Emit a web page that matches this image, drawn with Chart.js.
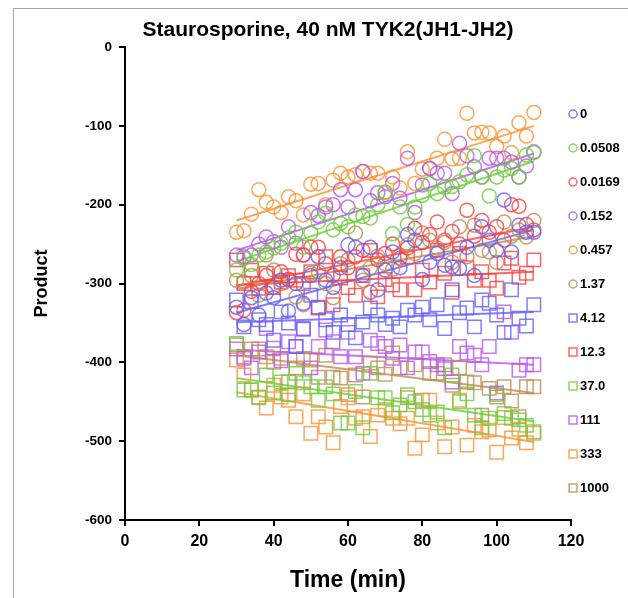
<!DOCTYPE html>
<html>
<head>
<meta charset="utf-8">
<script src="https://cdn.jsdelivr.net/npm/chart.js@4.4.1/dist/chart.umd.min.js"></script>
<style>
  html, body { margin: 0; padding: 0; overflow: hidden; background: #fff; }
  #wrap { position: relative; width: 628px; height: 598px; }
  #frame { position: absolute; left: 13px; top: 8px; width: 660px; height: 640px; border: 1px solid #a6a6a6; }
  canvas { position: absolute; left: 0; top: 0; }
</style>
</head>
<body>
<div id="wrap">
  <div id="frame"></div>
  <canvas id="kinaseChart" width="628" height="598"></canvas>
</div>
<script>
// thời gian đo (phút)
const times = [30, 32, 34, 36, 38, 40, 42, 44, 46, 48, 50, 52, 54, 56, 58, 60, 62, 64, 66, 68, 70,
  72, 74, 76, 78, 80, 82, 84, 86, 88, 90, 92, 94, 96, 98, 100, 102, 104, 106, 108, 110];

// nồng độ staurosporine (nM) - nhãn chú thích
const concLabels = ["0", "0.0508", "0.0169", "0.152", "0.457", "1.37", "4.12", "12.3", "37.0", "111", "333", "1000"];

// giá trị Product cho từng nồng độ
const c0 = [-330, -352, -318, -340, -312, -318, -296, -335, -300, -325, -290, -266, -296, -305, -280, -251, -254, -290, -254, -308, -283,
  -260, -280, -238, -245, -295, -273, -262, -277, -279, -281, -254, -290, -228, -245, -258, -194, -260, -226, -235, -235];
const c0508 = [-283, -268, -276, -264, -260, -255, -249, -242, -235, -254, -236, -222, -211, -232, -224, -228, -213, -215, -217, -200, -184,
  -237, -203, -225, -203, -188, -173, -186, -178, -177, -171, -162, -138, -165, -189, -165, -156, -154, -165, -137, -134];
const c0169 = [-337, -334, -310, -300, -290, -305, -285, -295, -263, -264, -254, -254, -275, -290, -266, -280, -266, -258, -311, -270, -262,
  -250, -268, -255, -230, -248, -238, -222, -245, -234, -250, -207, -240, -220, -235, -228, -245, -200, -202, -225, -232];
const c152 = [-264, -266, -264, -250, -241, -247, -254, -228, -249, -264, -210, -214, -203, -200, -181, -203, -181, -158, -195, -185, -190,
  -173, -192, -141, -210, -175, -154, -160, -160, -186, -122, -138, -152, -165, -141, -141, -141, -146, -165, -151, -133];
const c457 = [-235, -233, -212, -181, -197, -203, -210, -190, -195, -213, -174, -173, -200, -169, -160, -165, -162, -158, -160, -160, -185,
  -165, -179, -133, -173, -155, -154, -141, -117, -142, -141, -84, -109, -108, -109, -126, -113, -134, -96, -113, -83];
const c137 = [-296, -298, -290, -315, -264, -283, -300, -295, -317, -327, -287, -285, -300, -318, -275, -270, -236, -296, -280, -265, -275,
  -282, -264, -251, -262, -236, -245, -255, -248, -273, -228, -266, -226, -258, -260, -273, -222, -240, -232, -241, -220];
const c412 = [-321, -355, -323, -346, -352, -372, -336, -350, -380, -358, -315, -330, -346, -362, -340, -352, -369, -349, -331, -340, -352,
  -344, -355, -334, -340, -330, -346, -327, -357, -308, -337, -331, -355, -321, -325, -340, -362, -308, -344, -354, -327];
const c123 = [-270, -300, -283, -306, -287, -305, -298, -290, -296, -300, -285, -331, -266, -327, -293, -305, -315, -290, -258, -317, -295,
  -302, -308, -266, -308, -283, -298, -258, -287, -311, -262, -280, -296, -285, -296, -306, -274, -268, -292, -287, -270];
const c370 = [-376, -435, -435, -445, -416, -439, -425, -441, -414, -426, -431, -448, -431, -440, -477, -477, -437, -483, -414, -445, -445,
  -464, -454, -441, -450, -460, -467, -463, -483, -416, -450, -440, -467, -483, -471, -441, -465, -471, -473, -480, -488];
const c111 = [-383, -395, -407, -387, -357, -382, -398, -374, -380, -357, -407, -380, -359, -374, -393, -362, -393, -414, -372, -376, -380,
  -395, -378, -407, -387, -387, -399, -403, -408, -425, -380, -388, -391, -403, -380, -439, -336, -362, -410, -403, -403];
const c333 = [-397, -416, -435, -444, -458, -429, -444, -448, -469, -440, -490, -469, -482, -502, -456, -445, -471, -469, -494, -467, -460,
  -471, -478, -471, -509, -492, -448, -477, -507, -482, -448, -505, -480, -488, -486, -514, -470, -496, -485, -502, -490];
const c1000 = [-378, -393, -383, -383, -393, -400, -395, -425, -407, -395, -397, -419, -391, -419, -420, -441, -416, -444, -401, -407, -415,
  -388, -407, -445, -403, -448, -414, -414, -403, -429, -407, -425, -426, -467, -433, -444, -431, -449, -469, -431, -431];

// đường hồi quy tuyến tính: giá trị tại 30 phút và 110 phút
const fitTimes = [30, 110];
const fitStart = [-337, -272, -303, -258, -220, -307, -349, -302, -420, -384, -438, -391];
const fitEnd = [-232, -145, -228, -135, -100, -240, -336, -285, -475, -403, -501, -439];

const seriesValues = [c0, c0508, c0169, c152, c457, c137, c412, c123, c370, c111, c333, c1000];

const colors = [
  "rgba(95, 95, 255, 0.8)", "rgba(105, 205, 55, 0.8)", "rgba(255, 60, 60, 0.8)",
  "rgba(185, 85, 240, 0.8)", "rgba(255, 145, 45, 0.8)", "rgba(190, 140, 80, 0.8)",
  "rgba(95, 95, 255, 0.8)", "rgba(255, 60, 60, 0.8)", "rgba(105, 205, 55, 0.8)",
  "rgba(185, 85, 240, 0.8)", "rgba(255, 145, 45, 0.8)", "rgba(190, 140, 80, 0.8)"
];
const markers = ["circle", "circle", "circle", "circle", "circle", "circle", "rect", "rect", "rect", "rect", "rect", "rect"];

Chart.defaults.font.family = "'Liberation Sans', Arial, sans-serif";
Chart.defaults.color = "#000";

// Tạo datasets: điểm + đường xu hướng
const datasets = [];
seriesValues.forEach((vals, i) => {
  datasets.push({
    label: concLabels[i],
    data: vals.map((v, k) => ({ x: times[k], y: v })),
    pointStyle: markers[i],
    pointRadius: markers[i] === "circle" ? 7 : 9.5,
    pointBorderWidth: 1.5,
    borderColor: colors[i],
    backgroundColor: "rgba(0,0,0,0)",
    showLine: false,
  });
});
seriesValues.forEach((vals, i) => {
  datasets.push({
    label: "fit " + concLabels[i],
    data: fitTimes.map((t, k) => ({ x: t, y: k === 0 ? fitStart[i] : fitEnd[i] })),
    showLine: true,
    pointRadius: 0,
    borderWidth: 2,
    borderColor: colors[i],
    fill: false,
  });
});

// Tiêu đề và chú thích vẽ tay
const titleLegendPlugin = {
  id: "titleLegend",
  afterDraw(chart) {
    const ctx = chart.ctx;
    ctx.save();
    ctx.fillStyle = "#000";
    ctx.font = "bold 21px 'Liberation Sans', Arial, sans-serif";
    ctx.textAlign = "center";
    ctx.textBaseline = "middle";
    ctx.fillText("Staurosporine, 40 nM TYK2(JH1-JH2)", 328, 30);

    ctx.font = "bold 13px 'Liberation Sans', Arial, sans-serif";
    ctx.textAlign = "left";
    concLabels.forEach((lab, i) => {
      const y = 114 + i * 34;
      ctx.strokeStyle = colors[i];
      ctx.lineWidth = 1.5;
      ctx.beginPath();
      if (markers[i] === "circle") {
        ctx.arc(573, y, 4, 0, Math.PI * 2);
      } else {
        ctx.rect(569, y - 4, 8, 8);
      }
      ctx.stroke();
      ctx.fillText(lab, 580, y);
    });
    ctx.restore();
  },
};

const config = {
  type: "scatter",
  data: { datasets: datasets },
  options: {
    responsive: false,
    animation: false,
    layout: { padding: { left: 14, top: 47, right: 57, bottom: 0 } },
    plugins: {
      legend: { display: false },
      tooltip: { enabled: false },
    },
    scales: {
      x: {
        type: "linear",
        min: 0,
        max: 120,
        ticks: { stepSize: 20, padding: 6, font: { size: 16, weight: "bold" } },
        grid: { drawOnChartArea: false, tickLength: 6, color: "#000", lineWidth: 2 },
        border: { color: "#000", width: 2 },
        title: { display: true, text: "Time (min)", font: { size: 23, weight: "bold" }, padding: { top: 0, bottom: 4 } },
        afterFit: (scale) => { scale.height = 78; },
      },
      y: {
        min: -600,
        max: 0,
        ticks: { stepSize: 100, padding: 7, font: { size: 13.5, weight: "bold" } },
        grid: { drawOnChartArea: false, tickLength: 6, color: "#000", lineWidth: 2 },
        border: { color: "#000", width: 2 },
        title: { display: true, text: "Product", font: { size: 18, weight: "bold" }, padding: { top: 17, bottom: 0 } },
        afterFit: (scale) => { scale.width = 111; },
      },
    },
  },
  plugins: [titleLegendPlugin],
};

const kinaseChart = new Chart(document.getElementById("kinaseChart"), config);
</script>
</body>
</html>
